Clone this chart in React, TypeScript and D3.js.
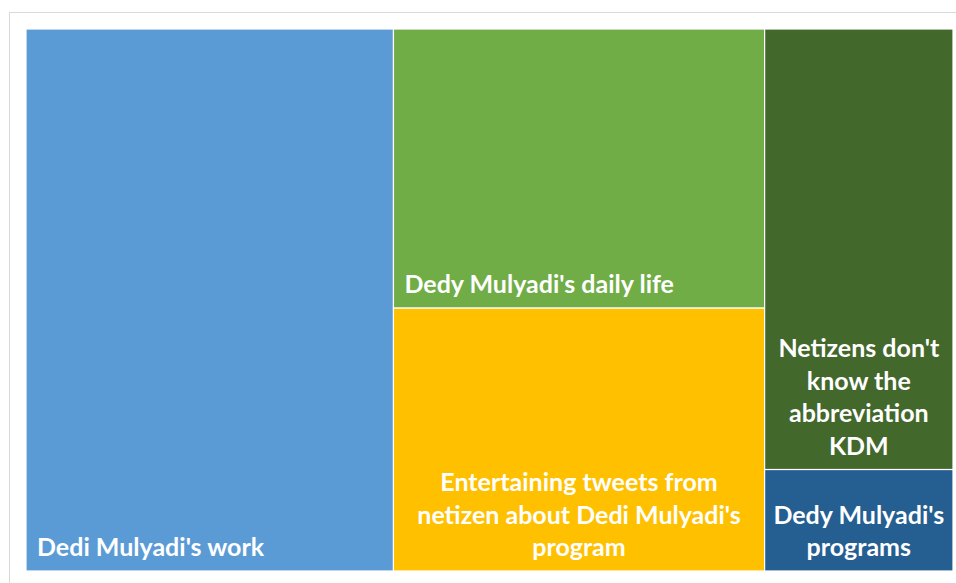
import React, { useEffect, useRef } from 'react';
import * as d3 from 'd3';

// topic clusters (share of tweets, %)
const categories = [
  "Dedi Mulyadi's work",
  "Dedy Mulyadi's daily life",
  "Entertaining tweets from netizen about Dedi Mulyadi's program",
  "Netizens don't know the abbreviation KDM",
  "Dedy Mulyadi's programs",
];
const values = [39.6, 20.6, 19.4, 16.5, 3.8];
const colors = ['#5B9BD5', '#70AD47', '#FFC000', '#43682B', '#255E91'];

const W = 956;
const H = 583;

function App() {
  const ref = useRef<SVGSVGElement>(null);

  useEffect(() => {
    const svg = d3.select(ref.current);
    svg.selectAll('*').remove();

    // chart area frame (cut off at right / bottom)
    svg.append('rect')
      .attr('x', 9.5)
      .attr('y', 12.5)
      .attr('width', 1000)
      .attr('height', 1000)
      .attr('fill', '#fff')
      .attr('stroke', '#D9D9D9');

    const left = 26, top = 29, width = 927, height = 542;

    const rows = categories.map((name, i) => ({ name, value: values[i], color: colors[i] }));
    const root = d3.hierarchy<any>({ children: rows })
      .sum((d) => d.value || 0)
      .sort((a, b) => (b.value || 0) - (a.value || 0));

    d3.treemap<any>()
      .tile(d3.treemapSquarify.ratio(1))
      .size([width, height])(root);

    const g = svg.append('g').attr('transform', `translate(${left},${top})`);

    const cell = g.selectAll('g')
      .data(root.leaves() as d3.HierarchyRectangularNode<any>[])
      .enter()
      .append('g');

    cell.append('rect')
      .attr('x', (d) => d.x0)
      .attr('y', (d) => d.y0)
      .attr('width', (d) => d.x1 - d.x0)
      .attr('height', (d) => d.y1 - d.y0)
      .attr('fill', (d) => d.data.color)
      .attr('stroke', '#fff')
      .attr('stroke-width', 1.2);

    const fontSize = 25;
    const lineH = 32.5;

    cell.each(function (d) {
      const sel = d3.select(this);
      const text = sel.append('text')
        .attr('fill', '#fff')
        .attr('font-family', 'Lato, "Open Sans", sans-serif')
        .attr('font-weight', 700)
        .attr('font-size', fontSize);

      // wrap words to tile width
      const maxW = d.x1 - d.x0 - 16;
      const words = d.data.name.split(' ');
      const lines: string[] = [];
      let cur = '';
      const probe = text.append('tspan');
      words.forEach((w: string) => {
        const t = cur ? cur + ' ' + w : w;
        probe.text(t);
        if ((probe.node() as SVGTSpanElement).getComputedTextLength() > maxW && cur) {
          lines.push(cur);
          cur = w;
        } else {
          cur = t;
        }
      });
      if (cur) lines.push(cur);
      probe.remove();

      const single = lines.length === 1;
      const x = single ? d.x0 + 11 : (d.x0 + d.x1) / 2;
      const lastY = d.y1 - 15;
      text.attr('text-anchor', single ? 'start' : 'middle');
      lines.forEach((ln, i) => {
        text.append('tspan')
          .attr('x', x)
          .attr('y', lastY - (lines.length - 1 - i) * lineH)
          .text(ln);
      });
    });
  }, []);

  return (
    <svg
      ref={ref}
      width={W}
      height={H}
      style={{ position: 'absolute', left: 0, top: 0, display: 'block' }}
    />
  );
}

export default App;
